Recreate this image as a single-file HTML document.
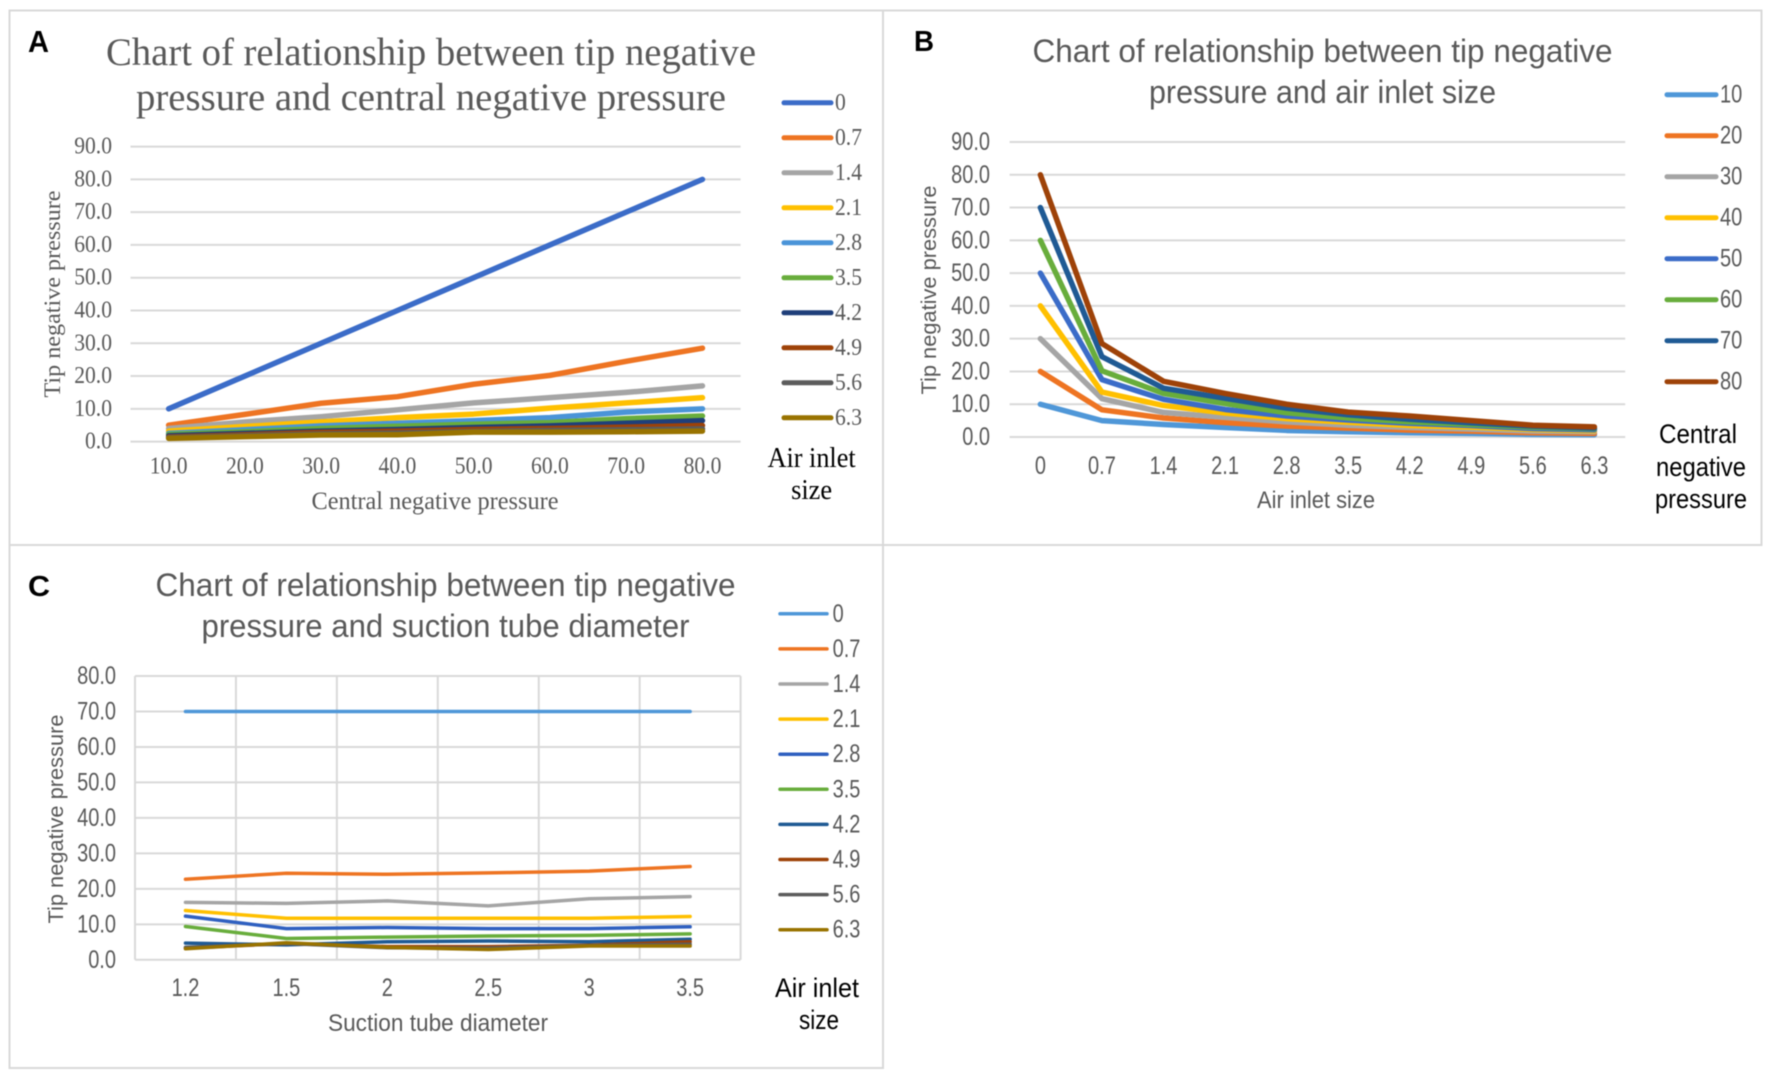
<!DOCTYPE html>
<html lang="en">
<head>
<meta charset="utf-8">
<title>Tip negative pressure charts</title>
<style>
html,body{margin:0;padding:0;background:#fff;}
svg{display:block;filter:blur(0.6px);}
.serif{font-family:"Liberation Serif",serif;}
.sans{font-family:"Liberation Sans",sans-serif;}
</style>
</head>
<body>
<svg id="figure" xmlns="http://www.w3.org/2000/svg" width="1772" height="1076" viewBox="0 0 1772 1076">
  <rect width="1772" height="1076" fill="#fff"/>
  <rect x="9.5" y="10.5" width="873.5" height="534.5" fill="none" stroke="#d9d9d9" stroke-width="2"/>
  <rect x="883" y="10.5" width="878.5" height="534.5" fill="none" stroke="#d9d9d9" stroke-width="2"/>
  <rect x="9.5" y="545" width="873.5" height="523" fill="none" stroke="#d9d9d9" stroke-width="2"/>

  <g id="panel-a">
    <text class="sans" x="28" y="52" font-size="31" font-weight="700" fill="#000" textLength="21" lengthAdjust="spacingAndGlyphs">A</text>
    <text class="serif" x="431" y="65" font-size="39" fill="#595959" text-anchor="middle" textLength="650" lengthAdjust="spacingAndGlyphs">Chart of relationship between tip negative</text>
    <text class="serif" x="431" y="110" font-size="39" fill="#595959" text-anchor="middle" textLength="590" lengthAdjust="spacingAndGlyphs">pressure and central negative pressure</text>
    <text class="serif" x="435" y="509" font-size="25" fill="#595959" text-anchor="middle" textLength="247" lengthAdjust="spacingAndGlyphs">Central negative pressure</text>
    <text class="serif" transform="translate(60,294) rotate(-90)" font-size="23" fill="#595959" text-anchor="middle" textLength="207" lengthAdjust="spacingAndGlyphs">Tip negative pressure</text>
    <text class="serif" x="811.6" y="467" font-size="28" fill="#000" text-anchor="middle" textLength="88" lengthAdjust="spacingAndGlyphs">Air inlet</text>
    <text class="serif" x="811.6" y="499" font-size="28" fill="#000" text-anchor="middle" textLength="41" lengthAdjust="spacingAndGlyphs">size</text>
  </g>

  <g id="panel-b">
    <text class="sans" x="914" y="51" font-size="29" font-weight="700" fill="#000" textLength="20" lengthAdjust="spacingAndGlyphs">B</text>
    <text class="sans" x="1322.5" y="62" font-size="32" fill="#595959" text-anchor="middle" textLength="580" lengthAdjust="spacingAndGlyphs">Chart of relationship between tip negative</text>
    <text class="sans" x="1322.5" y="103" font-size="32" fill="#595959" text-anchor="middle" textLength="347" lengthAdjust="spacingAndGlyphs">pressure and air inlet size</text>
    <text class="sans" x="1316" y="508" font-size="24" fill="#595959" text-anchor="middle" textLength="118" lengthAdjust="spacingAndGlyphs">Air inlet size</text>
    <text class="sans" transform="translate(936,290) rotate(-90)" font-size="21" fill="#595959" text-anchor="middle" textLength="209" lengthAdjust="spacingAndGlyphs">Tip negative pressure</text>
    <text class="sans" x="1698" y="443" font-size="27" fill="#000" text-anchor="middle" textLength="78" lengthAdjust="spacingAndGlyphs">Central</text>
    <text class="sans" x="1701" y="476" font-size="27" fill="#000" text-anchor="middle" textLength="90" lengthAdjust="spacingAndGlyphs">negative</text>
    <text class="sans" x="1701" y="508" font-size="27" fill="#000" text-anchor="middle" textLength="92" lengthAdjust="spacingAndGlyphs">pressure</text>
  </g>

  <g id="panel-c">
    <text class="sans" x="28" y="596" font-size="29" font-weight="700" fill="#000" textLength="22" lengthAdjust="spacingAndGlyphs">C</text>
    <text class="sans" x="445.5" y="596" font-size="32" fill="#595959" text-anchor="middle" textLength="580" lengthAdjust="spacingAndGlyphs">Chart of relationship between tip negative</text>
    <text class="sans" x="445.5" y="637" font-size="32" fill="#595959" text-anchor="middle" textLength="488" lengthAdjust="spacingAndGlyphs">pressure and suction tube diameter</text>
    <text class="sans" x="438" y="1031" font-size="24" fill="#595959" text-anchor="middle" textLength="220" lengthAdjust="spacingAndGlyphs">Suction tube diameter</text>
    <text class="sans" transform="translate(63,819) rotate(-90)" font-size="21" fill="#595959" text-anchor="middle" textLength="209" lengthAdjust="spacingAndGlyphs">Tip negative pressure</text>
    <text class="sans" x="817" y="997" font-size="27" fill="#000" text-anchor="middle" textLength="84" lengthAdjust="spacingAndGlyphs">Air inlet</text>
    <text class="sans" x="819" y="1029" font-size="27" fill="#000" text-anchor="middle" textLength="40" lengthAdjust="spacingAndGlyphs">size</text>
  </g>
</svg>

<script>
// ---- Chart A data ----
const aCategories = ["10.0","20.0","30.0","40.0","50.0","60.0","70.0","80.0"];
const aTicks = [0,10,20,30,40,50,60,70,80,90];
const aSeriesNames = ["0","0.7","1.4","2.1","2.8","3.5","4.2","4.9","5.6","6.3"];
const aInlet00 = [10,20,30,40,50,60,70,80];
const aInlet07 = [5.0,8.3,11.7,13.7,17.5,20.2,24.5,28.5];
const aInlet14 = [4.0,6.0,7.6,9.7,11.8,13.4,15.0,17.0];
const aInlet21 = [3.2,4.6,6.0,7.3,8.4,10.2,11.8,13.4];
const aInlet28 = [2.5,3.6,4.8,5.6,6.4,7.3,9.0,10.0];
const aInlet35 = [2.2,3.0,4.0,4.7,5.3,5.8,7.0,7.8];
const aInlet42 = [1.8,2.5,3.2,3.7,4.3,4.8,5.6,6.4];
const aInlet49 = [1.4,2.1,2.8,3.2,3.7,4.0,4.4,4.9];
const aInlet56 = [1.2,1.8,2.3,2.6,3.1,3.4,3.6,3.9];
const aInlet63 = [1.0,1.5,2.0,2.1,2.9,2.9,3.0,3.2];

// ---- Chart B data ----
const bCategories = ["0","0.7","1.4","2.1","2.8","3.5","4.2","4.9","5.6","6.3"];
const bTicks = [0,10,20,30,40,50,60,70,80,90];
const bSeriesNames = ["10","20","30","40","50","60","70","80"];
const bCentral10 = [10,5.0,3.8,2.9,2.0,1.6,1.3,1.1,0.8,0.7];
const bCentral20 = [20,8.3,5.8,4.4,3.3,2.7,2.1,1.8,1.3,1.1];
const bCentral30 = [30,11.7,7.5,6.0,4.6,3.6,2.9,2.4,1.8,1.6];
const bCentral40 = [40,13.7,9.6,7.3,5.6,4.5,3.5,3.0,2.3,1.9];
const bCentral50 = [50,17.5,11.5,8.4,6.4,5.2,4.2,3.5,2.6,2.2];
const bCentral60 = [60,20.2,13.3,10.2,7.4,5.8,4.6,3.8,3.0,2.5];
const bCentral70 = [70,24.5,14.9,11.8,8.8,6.8,5.4,4.3,3.3,2.7];
const bCentral80 = [80,28.5,17.0,13.3,10.0,7.6,6.4,5.0,3.6,3.1];

// ---- Chart C data ----
const cCategories = ["1.2","1.5","2","2.5","3","3.5"];
const cTicks = [0,10,20,30,40,50,60,70,80];
const cSeriesNames = ["0","0.7","1.4","2.1","2.8","3.5","4.2","4.9","5.6","6.3"];
const cInlet00 = [70,70,70,70,70,70];
const cInlet07 = [22.7,24.4,24.1,24.5,25.0,26.3];
const cInlet14 = [16.2,15.9,16.6,15.2,17.2,17.8];
const cInlet21 = [13.9,11.7,11.7,11.7,11.7,12.2];
const cInlet28 = [12.3,8.8,9.1,8.8,8.8,9.3];
const cInlet35 = [9.4,6.0,6.4,6.7,6.9,7.3];
const cInlet42 = [4.7,4.2,5.1,5.3,5.1,5.8];
const cInlet49 = [3.3,4.6,3.7,3.7,4.1,5.1];
const cInlet56 = [3.5,4.6,3.4,3.3,4.0,4.4];
const cInlet63 = [3.1,4.8,3.5,2.9,3.9,3.9];

const colorsA = ["#3b6cc8","#ee7422","#a5a5a5","#ffc000","#4a94d8","#68ad3c","#1f3f7a","#9e4208","#5c5c5c","#997300"];
const colorsB = ["#4f97d8","#ee7422","#a5a5a5","#ffc000","#3b6cc8","#68ad3c","#1f5a94","#9e4208"];
const colorsC = ["#4f97d8","#ee7422","#a5a5a5","#ffc000","#2f60c0","#68ad3c","#1f5a94","#9e4208","#5c5c5c","#997300"];

const NS = "http://www.w3.org/2000/svg";

function makeText(parent, name, str, x, y, size, cls, anchor, squeeze) {
  const el = document.createElementNS(NS, "text");
  
  
  el.setAttribute("class", cls);
  el.setAttribute("x", x);
  el.setAttribute("y", y);
  el.setAttribute("font-size", size);
  el.setAttribute("fill", "#595959");
  el.setAttribute("text-anchor", anchor);
  el.setAttribute("dominant-baseline", "central");
  el.textContent = str;
  parent.appendChild(el);
  if (squeeze !== 1) {
    const w = el.getComputedTextLength();
    el.setAttribute("textLength", (w * squeeze).toFixed(1));
    el.setAttribute("lengthAdjust", "spacingAndGlyphs");
  }
  return el;
}

function makeLine(parent, name, x1, y1, x2, y2, color, width, cap) {
  const el = document.createElementNS(NS, "line");
  
  
  el.setAttribute("x1", x1);
  el.setAttribute("y1", y1);
  el.setAttribute("x2", x2);
  el.setAttribute("y2", y2);
  el.setAttribute("stroke", color);
  el.setAttribute("stroke-width", width);
  if (cap) el.setAttribute("stroke-linecap", cap);
  parent.appendChild(el);
}

function drawChart(c) {
  const root = document.getElementById(c.panel);
  const plotLeft = c.plotLeft, plotRight = c.plotRight;
  const n = c.categories.length;
  const step = (plotRight - plotLeft) / n;
  const maxV = c.ticks[c.ticks.length - 1];
  const xScale = i => plotLeft + step * (i + 0.5);
  const yScale = v => c.y0 + (c.yMax - c.y0) * v / maxV;

  // horizontal gridlines and y tick labels
  c.ticks.forEach(t => {
    makeLine(root, "y-gridline", plotLeft, yScale(t), plotRight, yScale(t), "#d9d9d9", 2);
    makeText(root, "y-tick-label", t.toFixed(1), c.tickRight, yScale(t), c.tickSize, c.font, "end", c.squeeze);
  });

  // optional vertical gridlines and frame
  if (c.boxed) {
    for (let i = 0; i <= n; i++) {
      const gx = plotLeft + step * i;
      makeLine(root, "x-gridline", gx, c.yMax, gx, c.y0, "#d9d9d9", 2);
    }
  }

  // x tick labels
  c.categories.forEach((label, i) => {
    makeText(root, "x-tick-label", label, xScale(i), c.xLabelY, c.tickSize, c.font, "middle", c.squeeze);
  });

  // series
  c.series.forEach((values, s) => {
    const path = document.createElementNS(NS, "polyline");
    
    
    path.setAttribute("points", values.map((v, i) => xScale(i).toFixed(2) + "," + yScale(v).toFixed(2)).join(" "));
    path.setAttribute("fill", "none");
    path.setAttribute("stroke", c.colors[s]);
    path.setAttribute("stroke-width", c.lineWidth);
    path.setAttribute("stroke-linejoin", "round");
    path.setAttribute("stroke-linecap", "round");
    root.appendChild(path);
  });

  // legend
  c.names.forEach((name, s) => {
    const ly = c.legendTop + c.legendStep * s;
    makeLine(root, "legend-swatch", c.legendX1, ly, c.legendX2, ly, c.colors[s], c.legendWidth, "round");
    makeText(root, "legend-label", name, c.legendText, ly, c.tickSize, c.font, "start", c.squeeze);
  });
}

drawChart({
  panel: "panel-a", font: "serif", squeeze: 0.9,
  categories: aCategories, ticks: aTicks, names: aSeriesNames, colors: colorsA,
  series: [aInlet00,aInlet07,aInlet14,aInlet21,aInlet28,aInlet35,aInlet42,aInlet49,aInlet56,aInlet63],
  plotLeft: 130.5, plotRight: 740.6, y0: 441.6, yMax: 146.6,
  tickRight: 112, tickSize: 24, xLabelY: 466.5, lineWidth: 5.5, boxed: false,
  legendTop: 102.8, legendStep: 35, legendX1: 784, legendX2: 831, legendText: 835, legendWidth: 5
});

drawChart({
  panel: "panel-b", font: "sans", squeeze: 0.8,
  categories: bCategories, ticks: bTicks, names: bSeriesNames, colors: colorsB,
  series: [bCentral10,bCentral20,bCentral30,bCentral40,bCentral50,bCentral60,bCentral70,bCentral80],
  plotLeft: 1009.6, plotRight: 1625.2, y0: 437, yMax: 142,
  tickRight: 990, tickSize: 25, xLabelY: 465.8, lineWidth: 5.5, boxed: false,
  legendTop: 94.7, legendStep: 41, legendX1: 1667, legendX2: 1716, legendText: 1720, legendWidth: 5
});

drawChart({
  panel: "panel-c", font: "sans", squeeze: 0.8,
  categories: cCategories, ticks: cTicks, names: cSeriesNames, colors: colorsC,
  series: [cInlet00,cInlet07,cInlet14,cInlet21,cInlet28,cInlet35,cInlet42,cInlet49,cInlet56,cInlet63],
  plotLeft: 135, plotRight: 740.6, y0: 959.8, yMax: 676,
  tickRight: 116, tickSize: 25, xLabelY: 987.9, lineWidth: 3.5, boxed: true,
  legendTop: 613.8, legendStep: 35.1, legendX1: 780, legendX2: 827, legendText: 832.6, legendWidth: 3.5
});
</script>
</body>
</html>
